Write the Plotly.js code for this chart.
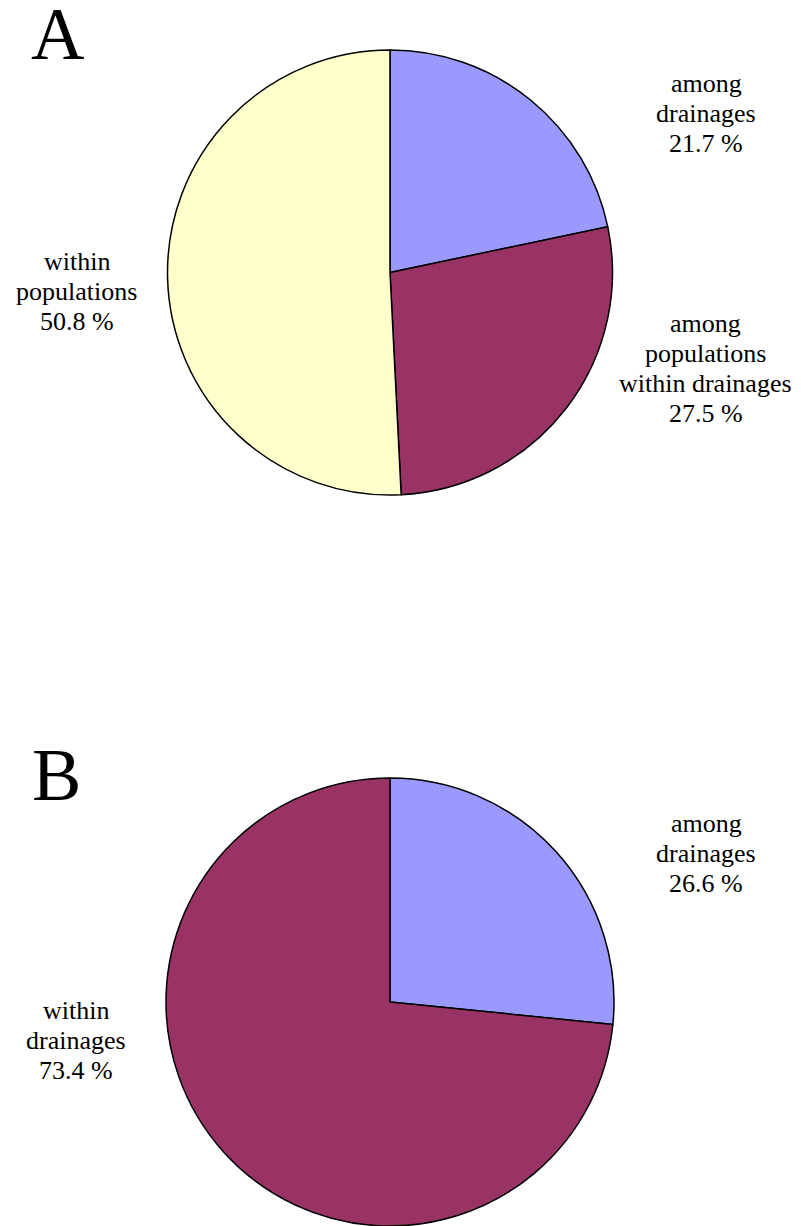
<!DOCTYPE html>
<html>
<head>
<meta charset="utf-8">
<script src="https://cdn.plot.ly/plotly-3.0.1.min.js"></script>
<style>
  html, body { margin: 0; padding: 0; background: #ffffff; }
  #chart { width: 801px; height: 1226px; }
</style>
</head>
<body>
<div id="chart"></div>
<script>
// ---- Data ----
const labelsA = ['among drainages', 'among populations within drainages', 'within populations'];
const valuesA = [21.7, 27.5, 50.8];
const labelLinesA = [['among', 'drainages'], ['among', 'populations', 'within drainages'], ['within', 'populations']];

const labelsB = ['among drainages', 'within drainages'];
const valuesB = [26.6, 73.4];
const labelLinesB = [['among', 'drainages'], ['within', 'drainages']];

const panelLetters = ['A', 'B'];

// ---- Styles / layout config ----
const W = 801, H = 1226;
const colorsA = ['#9999FF', '#993366', '#FFFFCC'];
const colorsB = ['#9999FF', '#993366'];
const serif = 'Liberation Serif, Times New Roman, serif';
const labelSize = 26;
const lineGap = 30;

// pixel boxes for pies: [left, right, top, bottom]
const boxA = [167.5, 612.5, 50, 495];
const boxB = [166, 614, 778, 1226];

// label anchors: [centerX, firstBaseline]
const anchorsA = [[706, 92], [705.5, 332], [76.5, 270]];
const anchorsB = [[706, 832], [76, 1019]];
const letterPos = [[57.5, 59], [57, 800]];

function dom(b) {
  return { x: [b[0] / W, b[1] / W], y: [Math.max(0, 1 - b[3] / H), 1 - b[2] / H] };
}

function pie(labels, values, colors, box) {
  return {
    type: 'pie',
    labels: labels,
    values: values,
    sort: false,
    direction: 'clockwise',
    rotation: 0,
    textinfo: 'none',
    hoverinfo: 'label+percent',
    showlegend: false,
    marker: { colors: colors, line: { color: '#000000', width: 1.5 } },
    domain: dom(box)
  };
}

const annotations = [];
function addLabel(lines, value, anchor) {
  const all = lines.concat([value.toFixed(1) + ' %']);
  all.forEach((t, i) => {
    const base = anchor[1] + i * lineGap;
    annotations.push({
      text: t, xref: 'paper', yref: 'paper',
      x: anchor[0] / W, y: 1 - (base - 0.3375 * labelSize) / H,
      xanchor: 'center', yanchor: 'middle', showarrow: false,
      font: { family: serif, size: labelSize, color: '#000000' }
    });
  });
}
labelLinesA.forEach((l, i) => addLabel(l, valuesA[i], anchorsA[i]));
labelLinesB.forEach((l, i) => addLabel(l, valuesB[i], anchorsB[i]));

panelLetters.forEach((t, i) => {
  const size = 74;
  annotations.push({
    text: t, xref: 'paper', yref: 'paper',
    x: letterPos[i][0] / W, y: 1 - (letterPos[i][1] - 0.3375 * size) / H,
    xanchor: 'center', yanchor: 'middle', showarrow: false,
    font: { family: serif, size: size, color: '#000000' }
  });
});

const layout = {
  width: W, height: H,
  margin: { l: 0, r: 0, t: 0, b: 0, pad: 0 },
  paper_bgcolor: '#ffffff',
  plot_bgcolor: '#ffffff',
  annotations: annotations
};

Plotly.newPlot('chart', [pie(labelsA, valuesA, colorsA, boxA), pie(labelsB, valuesB, colorsB, boxB)], layout, { staticPlot: true, displayModeBar: false });
</script>
</body>
</html>
